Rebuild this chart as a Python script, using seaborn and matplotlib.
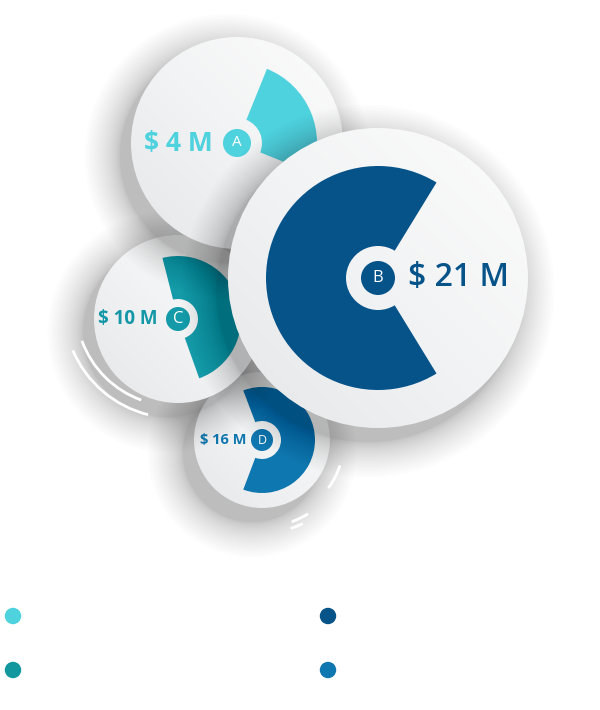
import numpy as np
import pandas as pd
import seaborn as sns
import matplotlib
matplotlib.use("Agg")
import matplotlib.pyplot as plt
from matplotlib.patches import Circle, Wedge, Arc
from matplotlib.colors import LinearSegmentedColormap

# data
labels = ['A', 'B', 'C', 'D']
values = [4, 21, 10, 16]                 # $ M
shares = [0.25, 0.675, 0.485, 0.615]     # filled part of each ring
colors = ['#4dd2de', '#06538a', '#149aa8', '#0f77b0']
legend_colors = ['#4dd2de', '#06538a', '#13979f', '#0f77b0']

# layout (pixels, y up)
centers = [(237, 567), (378, 432), (178, 391), (262, 270)]
radius = [106, 150, 84, 68]
ring_out = [80, 112, 63, 53]
ring_in = [25, 32, 20, 19]
badge_r = [14, 17, 12, 11]
mid_angle = [23, 180, 17, 0]
label_pos = [(213, 567, 'right'), (408, 432, 'left'), (158, 391, 'right'), (247, 270, 'right')]
label_size = [19, 23, 13.5, 10.5]
label_weight = ['bold', 'semibold', 'bold', 'bold']
badge_size = [11, 12, 12, 9]
draw_order = [3, 2, 0, 1]

sns.set_theme(style='white')
plt.rcParams['font.family'] = ['Open Sans', 'DejaVu Sans']

fig = plt.figure(figsize=(6, 7.1), dpi=100)
ax = fig.add_axes([0, 0, 1, 1])

grad_cmap = LinearSegmentedColormap.from_list('bub', ['#e6e7e9', '#f2f3f4', '#fcfcfc'])
g = np.linspace(0, 1, 200)
gx, gy = np.meshgrid(g, g)
grad = (gx + gy) / 2

z = 1
for i in draw_order:
    cx, cy = centers[i]
    R = radius[i]
    # soft drop shadow, denser near the rim
    n = 22
    for k in range(n):
        ax.add_patch(Circle((cx - 10, cy - 13), R + 1 + (k / n) ** 1.6 * 38, color='black',
                            alpha=0.010, lw=0, zorder=z))
    z += 1
    body = Circle((cx, cy), R, facecolor='none', edgecolor='none', zorder=z)
    ax.add_patch(body)
    im = ax.imshow(grad, extent=[cx - R, cx + R, cy - R, cy + R], origin='lower',
                   cmap=grad_cmap, zorder=z, interpolation='bilinear')
    im.set_clip_path(body)
    z += 1
    span = shares[i] * 360
    t1 = mid_angle[i] - span / 2
    t2 = mid_angle[i] + span / 2
    ax.add_patch(Wedge((cx, cy), ring_out[i], t1, t2, width=ring_out[i] - ring_in[i],
                       color=colors[i], lw=0, zorder=z))
    ax.add_patch(Circle((cx, cy), badge_r[i], color=colors[i], lw=0, zorder=z + 1))
    ax.text(cx, cy, labels[i], color='white', fontsize=badge_size[i], ha='center',
            va='center', zorder=z + 2)
    lx, ly, ha = label_pos[i]
    ax.text(lx, ly, f'$ {values[i]} M', color=colors[i] if i != 2 else '#1497a6',
            fontsize=label_size[i], fontweight=label_weight[i], ha=ha, va='center',
            zorder=z + 2)
    z += 3

# white swooshes in the shadows
sw = dict(color='white', lw=2, zorder=100)
ax.add_patch(Arc((175, 403), 222, 222, theta1=203, theta2=256, **sw))
ax.add_patch(Arc((175, 403), 198, 198, theta1=200, theta2=250, **sw))
ax.add_patch(Arc((262, 270), 164, 164, theta1=-36, theta2=-18, **sw))
ax.add_patch(Arc((262, 270), 174, 174, theta1=-70, theta2=-58, **sw))
ax.add_patch(Arc((262, 270), 186, 186, theta1=-72, theta2=-64, **sw))

# legend dots
legend_df = pd.DataFrame({'label': labels,
                          'x': [13, 328, 13, 328],
                          'y': [94, 94, 40, 40]})
sns.scatterplot(data=legend_df, x='x', y='y', hue='label', palette=legend_colors,
                s=140, linewidth=0, legend=False, ax=ax, zorder=150)

ax.set_xlim(0, 600)
ax.set_ylim(0, 710)
ax.set_aspect('auto')
ax.axis('off')

fig.savefig('out.png', dpi=100, facecolor='white')
